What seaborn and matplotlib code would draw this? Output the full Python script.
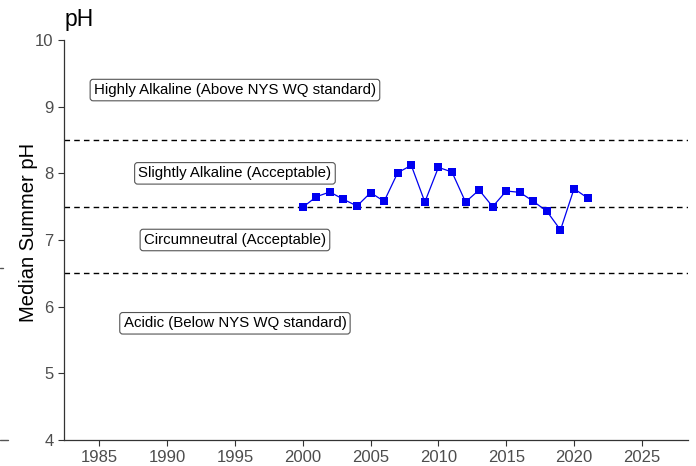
import pandas as pd
import matplotlib.pyplot as plt
import seaborn as sns
from matplotlib.lines import Line2D

# --- data ---
years = list(range(2000, 2022))
ph_values = [7.49, 7.65, 7.72, 7.61, 7.51, 7.71, 7.58, 8.01, 8.12, 7.57, 8.09,
             8.02, 7.57, 7.75, 7.50, 7.735, 7.715, 7.58, 7.43, 7.15, 7.77, 7.63]
thresholds = [8.5, 7.5, 6.5]
zone_labels = ["Highly Alkaline (Above NYS WQ standard)",
               "Slightly Alkaline (Acceptable)",
               "Circumneutral (Acceptable)",
               "Acidic (Below NYS WQ standard)"]
zone_label_y = [9.25, 8.0, 7.0, 5.75]
x_ticks = [1985, 1990, 1995, 2000, 2005, 2010, 2015, 2020, 2025]
y_ticks = [4, 5, 6, 7, 8, 9, 10]

df = pd.DataFrame({"year": years, "ph": ph_values})

sns.set_style("white")
plt.rcParams["font.family"] = ["Liberation Sans", "DejaVu Sans"]

fig = plt.figure(figsize=(6.96, 4.66), dpi=100)
ax = fig.add_axes([0.092, 0.056, 0.8965, 0.858])

for t in thresholds:
    ax.axhline(t, color="black", linestyle=(0, (4, 3)), linewidth=1.0, zorder=1)

sns.lineplot(data=df, x="year", y="ph", ax=ax, color="#0000F0", linewidth=0.9,
             marker="s", markersize=5.5, markeredgewidth=0, zorder=3)

for lbl, y in zip(zone_labels, zone_label_y):
    ax.text(1995, y, lbl, ha="center", va="center", fontsize=10.8, color="black",
            bbox=dict(boxstyle="round,pad=0.25,rounding_size=0.2", fc="white",
                      ec="#555555", lw=0.8))

ax.set_xlim(1982.4, 2028.4)
ax.set_ylim(4, 10)
ax.set_xticks(x_ticks)
ax.set_yticks(y_ticks)
ax.set_xlabel("")
ax.set_ylabel("Median Summer pH", fontsize=14.5, color="black")
ax.yaxis.set_label_coords(-0.041, 0.52)
ax.tick_params(axis="both", labelsize=12, labelcolor="#4d4d4d", color="#333333",
               length=4, width=0.8, direction="out", bottom=True, left=True)
sns.despine(ax=ax)
for s in ["left", "bottom"]:
    ax.spines[s].set_color("#333333")
    ax.spines[s].set_linewidth(0.9)

fig.text(0.093, 0.982, "pH", ha="left", va="top", fontsize=16.5, color="black")

# small stray marks at the left edge of the reference
fig.add_artist(Line2D([0, 0.005], [1 - 268 / 466] * 2, color="#555555", lw=1))
fig.add_artist(Line2D([0, 0.012], [1 - 440 / 466] * 2, color="#555555", lw=1))

fig.savefig("out.png", dpi=100)
